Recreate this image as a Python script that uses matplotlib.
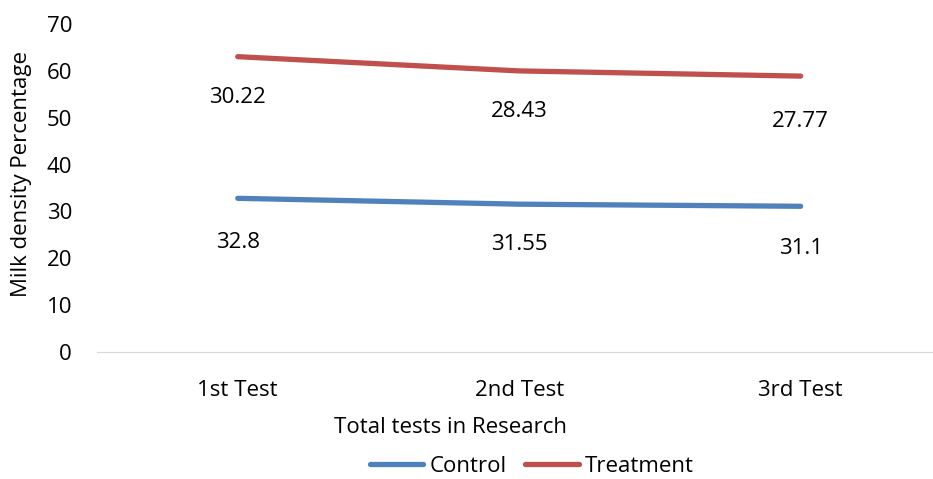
import matplotlib.pyplot as plt

tests = ['1st Test', '2nd Test', '3rd Test']
control = [32.8, 31.55, 31.1]
treatment = [30.22, 28.43, 27.77]
# vertical offset of each data label below its point (px)
control_offsets = [-44, -40, -42]
treatment_offsets = [-41, -41, -45]

plt.rcParams['font.family'] = ['Open Sans', 'DejaVu Sans']
FS = 16

fig = plt.figure(figsize=(9.33, 4.79), dpi=100)
ax = fig.add_axes([0.104, 0.265, 0.905, 0.685])

x = list(range(len(tests)))
stacked = [c + t for c, t in zip(control, treatment)]

ax.plot(x, control, color='#4F81BD', lw=3.8, solid_capstyle='round', label='Control')
ax.plot(x, stacked, color='#C0504D', lw=3.8, solid_capstyle='round', label='Treatment')

for i in x:
    ax.annotate(str(control[i]), (i, control[i]), xytext=(0, control_offsets[i] * 0.72),
                textcoords='offset points', ha='center', va='center', fontsize=FS)
    ax.annotate(str(treatment[i]), (i, stacked[i]), xytext=(0, treatment_offsets[i] * 0.72),
                textcoords='offset points', ha='center', va='center', fontsize=FS)

ax.set_xlim(-0.5, 2.5)
ax.set_ylim(0, 70)
ax.set_yticks(range(0, 71, 10))
ax.set_xticks(x)
ax.set_xticklabels(tests)
ax.tick_params(axis='both', length=0, labelsize=FS, colors='black')
ax.tick_params(axis='x', pad=20)
ax.tick_params(axis='y', pad=18)
for s in ['top', 'right', 'left']:
    ax.spines[s].set_visible(False)
ax.spines['bottom'].set_color('#D9D9D9')

ax.set_xlabel('Total tests in Research', fontsize=FS, va='center')
ax.xaxis.set_label_coords(0.419, -0.229)
ax.set_ylabel('Milk density Percentage', fontsize=FS, va='center')
ax.yaxis.set_label_coords(-0.089, 0.543)

fig.legend(loc='center', bbox_to_anchor=(0.570, 0.027), ncol=2, frameon=False,
           fontsize=FS, handlelength=2.4, handletextpad=0.27, columnspacing=0.85,
           borderpad=0)

fig.savefig('out.png', dpi=100)
